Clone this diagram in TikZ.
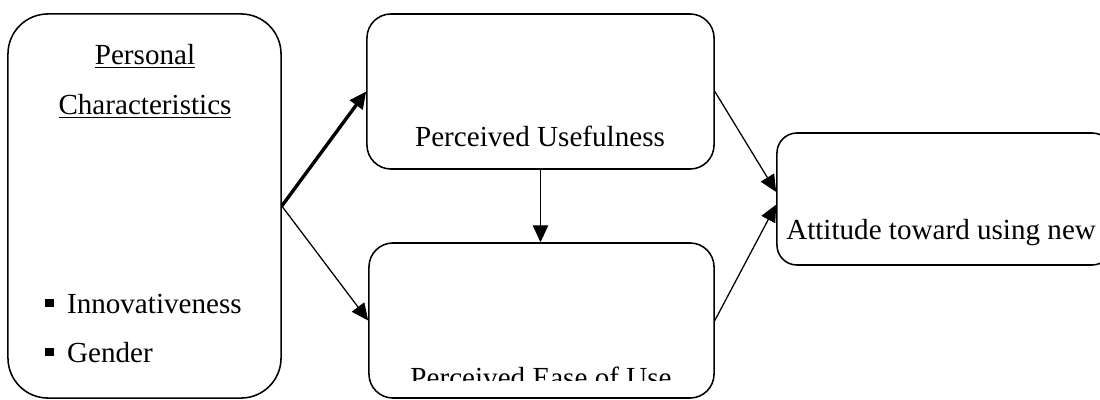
\documentclass[tikz,border=0pt]{standalone}
\usepackage{fontspec}
\setmainfont{Liberation Serif}
\usetikzlibrary{arrows.meta}

\tikzset{
  box/.style={draw, line width=1.1pt, inner sep=0pt},
  lbl/.style={anchor=base, inner sep=0pt, font=\fontsize{20.7}{25}\selectfont},
  link/.style={-{Triangle[length=12pt,width=11pt]}, line width=0.9pt},
}

\begin{document}
\begin{tikzpicture}[x=0.025cm,y=-0.025cm]

\clip (0,0) rectangle (1100,400);

% Personal characteristics
\node[box,rounded corners=1cm,minimum width=6.825cm,minimum height=9.6cm] (pc) at (144.5,206) {};
\node[lbl] (pchead) at (145,65) {\underline{Personal}};
\node[lbl] (pchead2) at (145,115) {\underline{Characteristics}};
\node[lbl,anchor=base west] (inno) at (45,313) {\rule[4.3pt]{6pt}{6pt}\hspace{9.5pt}Innovativeness};
\node[lbl,anchor=base west] (gend) at (45,362) {\rule[4.3pt]{6pt}{6pt}\hspace{9.5pt}Gender};

% Perceived usefulness
\node[box,rounded corners=0.6cm,minimum width=8.675cm,minimum height=3.875cm] (pu) at (540.5,91.5) {};
\node[lbl] (putext) at (540,147) {Perceived Usefulness};

% Perceived ease of use (text cut at the bottom)
\node[box,rounded corners=0.6cm,minimum width=8.625cm,minimum height=3.875cm] (pe) at (541.5,320.5) {};
\begin{scope}
  \clip (369,243) rectangle (714,380);
  \node[lbl] (petext) at (541,387) {Perceived Ease of Use};
\end{scope}

% Attitude
\node[box,rounded corners=0.5cm,minimum width=8.375cm,minimum height=3.3cm] (att) at (944.5,199) {};
\node[lbl,anchor=base west] (atttext) at (786,240) {Attitude toward using new};

% Draw the links
\draw[link,line width=2.4pt] (pc.east) -- (pu.west);
\draw[link] (pc.east) -- (pe.west);
\draw[link] (pu.south) -- (pu.south |- pe.north);
\draw[link] (pu.east) -- ([yshift=5pt]att.west);
\draw[link] (pe.east) -- ([yshift=-4pt]att.west);

\end{tikzpicture}
\end{document}
